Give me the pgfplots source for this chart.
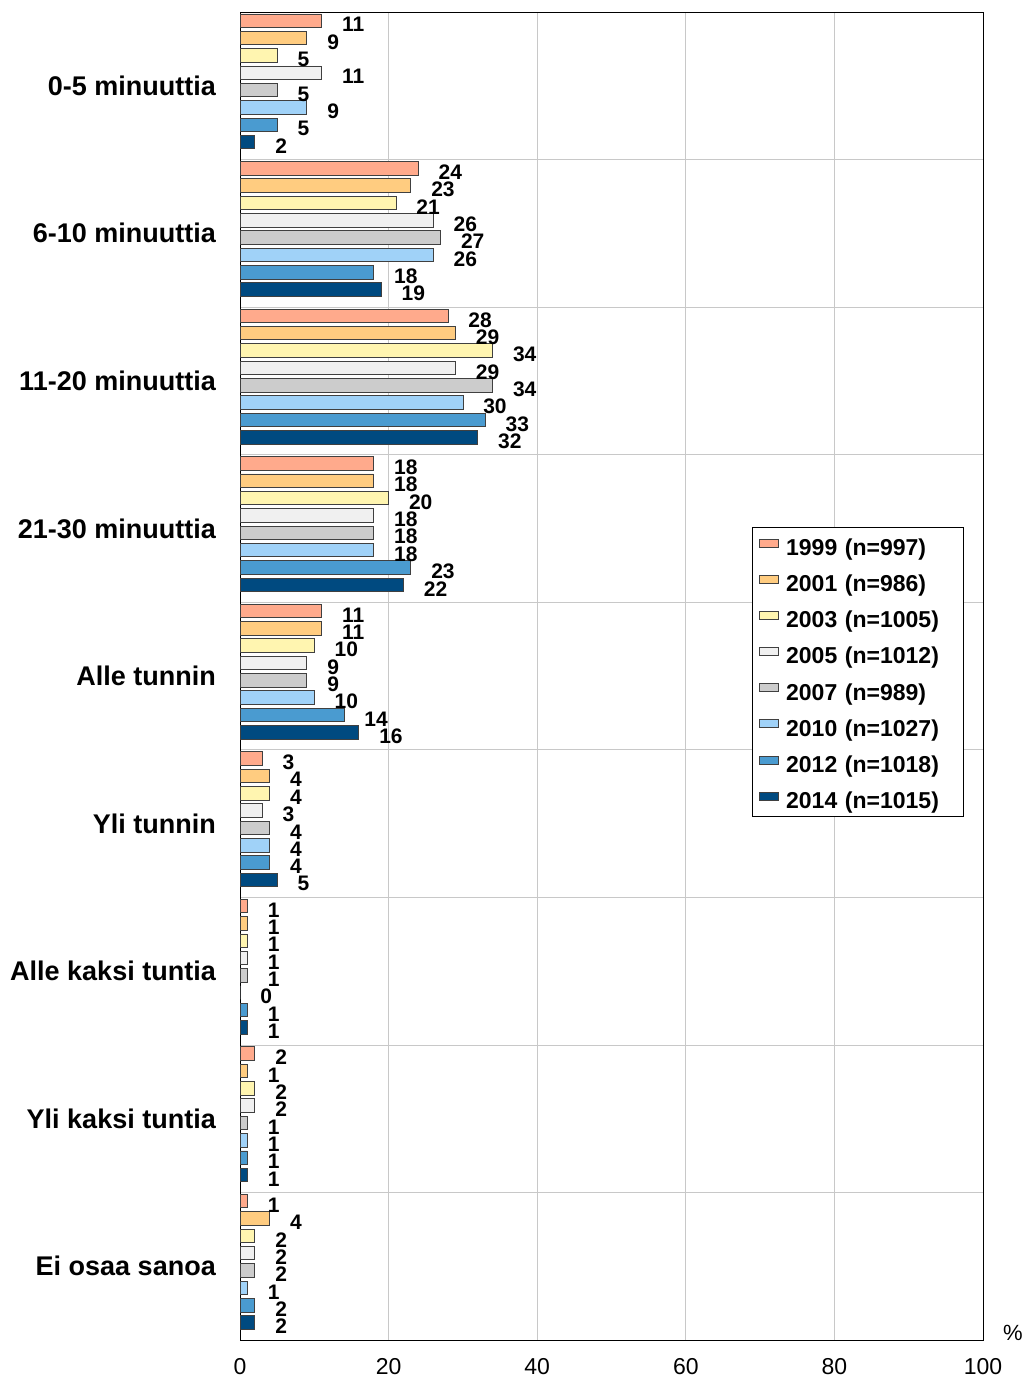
\documentclass[border=0pt]{standalone}
\usepackage{pgfplots}
\pgfplotsset{compat=1.18}
\usepackage{fontspec}
\setmainfont{Liberation Sans}
\definecolor{c1999}{HTML}{FFAA8C}
\definecolor{c2001}{HTML}{FFCC80}
\definecolor{c2003}{HTML}{FFF5B0}
\definecolor{c2005}{HTML}{F0F0F0}
\definecolor{c2007}{HTML}{CCCCCC}
\definecolor{c2010}{HTML}{A0D2F8}
\definecolor{c2012}{HTML}{4A9BD0}
\definecolor{c2014}{HTML}{004A80}
\definecolor{gridgray}{HTML}{C8C8C8}
\begin{document}
\begin{tikzpicture}
\begin{axis}[
  scale only axis, width=743pt, height=1328pt,
  xbar, bar width=13.5pt,
  xmin=0, xmax=100, xtick={0,20,40,60,80,100},
  ymin=-0.5, ymax=8.5, y dir=reverse,
  ytick={0,1,2,3,4,5,6,7,8},
  yticklabels={0-5 minuuttia,6-10 minuuttia,11-20 minuuttia,21-30 minuuttia,Alle tunnin,Yli tunnin,Alle kaksi tuntia,Yli kaksi tuntia,Ei osaa sanoa},
  minor ytick={0.5,1.5,2.5,3.5,4.5,5.5,6.5,7.5},
  xmajorgrids=true, yminorgrids=true,
  major grid style={gridgray, line width=0.8pt},
  minor grid style={gridgray, line width=0.8pt},
  major tick length=0pt, minor tick length=0pt,
  axis line style={black, line width=0.9pt},
  /pgf/number format/assume math mode=true,
  yticklabel style={font=\fontsize{27}{27}\selectfont\bfseries, anchor=east, inner sep=0pt, xshift=-24pt},
  xticklabel style={font=\fontsize{23}{23}\selectfont, anchor=north, inner sep=0pt, yshift=-17.8pt},
  point meta=x,
  nodes near coords,
  every node near coord/.style={font=\fontsize{21}{21}\selectfont\bfseries, anchor=west, inner sep=0pt, xshift=20pt, yshift=-4pt, black},
  every axis plot/.append style={draw=black!75, line width=0.8pt},
  legend image code/.code={\draw[#1] (0pt,-1.7pt) rectangle (19pt,6.3pt);},
  legend cell align=left,
  legend style={at={(rel axis cs:0.689,0.612)}, anchor=north west, draw=black, line width=0.8pt,
    font=\fontsize{23}{23}\selectfont\bfseries, inner xsep=7pt, inner ysep=3pt,
    row sep=6.1pt, column sep=5pt,
    nodes={inner sep=2pt, text height=23pt, text depth=3pt, text width=168pt}},
  clip=false,
]
\addplot[fill=c1999, bar shift=65.1pt, every node near coord/.append style={yshift=65.1pt}] coordinates {(11,0) (24,1) (28,2) (18,3) (11,4) (3,5) (1,6) (2,7) (1,8)};
\addplot[fill=c2001, bar shift=47.8pt, every node near coord/.append style={yshift=47.8pt}] coordinates {(9,0) (23,1) (29,2) (18,3) (11,4) (4,5) (1,6) (1,7) (4,8)};
\addplot[fill=c2003, bar shift=30.4pt, every node near coord/.append style={yshift=30.4pt}] coordinates {(5,0) (21,1) (34,2) (20,3) (10,4) (4,5) (1,6) (2,7) (2,8)};
\addplot[fill=c2005, bar shift=13.1pt, every node near coord/.append style={yshift=13.1pt}] coordinates {(11,0) (26,1) (29,2) (18,3) (9,4) (3,5) (1,6) (2,7) (2,8)};
\addplot[fill=c2007, bar shift=-4.3pt, every node near coord/.append style={yshift=-4.3pt}] coordinates {(5,0) (27,1) (34,2) (18,3) (9,4) (4,5) (1,6) (1,7) (2,8)};
\addplot[fill=c2010, bar shift=-21.6pt, every node near coord/.append style={yshift=-21.6pt}] coordinates {(9,0) (26,1) (30,2) (18,3) (10,4) (4,5) (0,6) (1,7) (1,8)};
\addplot[fill=c2012, bar shift=-39.0pt, every node near coord/.append style={yshift=-39.0pt}] coordinates {(5,0) (18,1) (33,2) (23,3) (14,4) (4,5) (1,6) (1,7) (2,8)};
\addplot[fill=c2014, bar shift=-56.3pt, every node near coord/.append style={yshift=-56.3pt}] coordinates {(2,0) (19,1) (32,2) (22,3) (16,4) (5,5) (1,6) (1,7) (2,8)};
\legend{1999 (n=997),2001 (n=986),2003 (n=1005),2005 (n=1012),2007 (n=989),2010 (n=1027),2012 (n=1018),2014 (n=1015)}
\coordinate (SW) at (rel axis cs:0,0);
\coordinate (NE) at (rel axis cs:1,1);
\node[font=\fontsize{22}{22}\selectfont, anchor=center] at ([xshift=30pt,yshift=7pt]rel axis cs:1,0) {\%};
\end{axis}
\pgfresetboundingbox
\path ([xshift=-240pt,yshift=-42pt]SW) rectangle ([xshift=42pt,yshift=12pt]NE);
\end{tikzpicture}
\end{document}
